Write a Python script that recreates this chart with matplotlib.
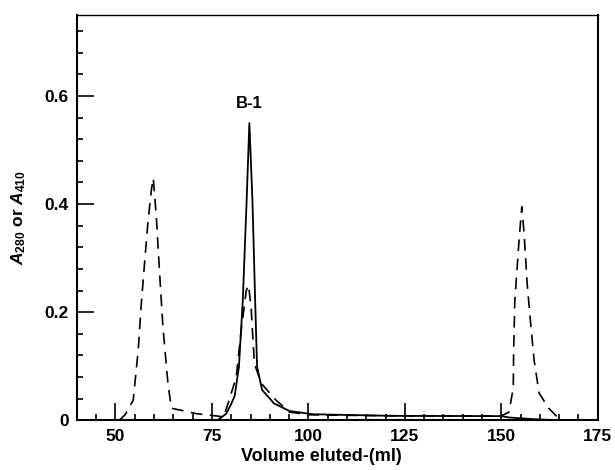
import matplotlib
matplotlib.use('Agg')
import matplotlib.pyplot as plt
from matplotlib.ticker import MultipleLocator

plt.rcParams['font.family'] = ['Liberation Sans', 'DejaVu Sans']
plt.rcParams['mathtext.fontset'] = 'custom'
plt.rcParams['mathtext.rm'] = 'Liberation Sans:bold'
plt.rcParams['mathtext.it'] = 'Liberation Sans:italic:bold'
plt.rcParams['mathtext.bf'] = 'Liberation Sans:bold'

# dashed trace (A410)
vol_dash = [51, 52.5, 54.6, 55.9, 56.7, 57.6, 58.4, 59.3, 59.8, 60.6, 61.5, 62.3, 63.6, 64.5,
            66.6, 71, 76, 78, 79.6, 81.3, 82.6, 83.9, 84.5, 85.2, 85.6, 86, 87.8, 91.6, 95.1,
            100, 110, 125, 140, 150, 152, 153.1, 153.2, 153.5, 154.6, 155.3, 155.9, 156.7,
            157.6, 158.5, 159.8, 162.3, 164.5]
abs_dash = [0, 0.01, 0.037, 0.13, 0.216, 0.296, 0.365, 0.426, 0.448, 0.376, 0.265, 0.173, 0.068, 0.022,
            0.019, 0.012, 0.008, 0.006, 0.04, 0.08, 0.167, 0.24, 0.25, 0.204, 0.154, 0.105, 0.068, 0.037, 0.015,
            0.01, 0.009, 0.008, 0.008, 0.008, 0.015, 0.06, 0.13, 0.222, 0.333, 0.395, 0.346, 0.253,
            0.179, 0.111, 0.05, 0.022, 0.006]

# solid trace (A280)
vol_solid = [76.5, 78.7, 80, 80.9, 82, 83, 84, 84.7, 85.5, 86.2, 86.7, 88, 91.1, 95.1, 101.2,
             121.5, 150, 152, 158, 164.1]
abs_solid = [0, 0.012, 0.03, 0.045, 0.099, 0.222, 0.407, 0.55, 0.407, 0.222, 0.099, 0.056, 0.031,
             0.017, 0.011, 0.008, 0.0075, 0.005, 0.002, 0]

xticks = [50, 75, 100, 125, 150, 175]
yticks = [0, 0.2, 0.4, 0.6]
yticklabels = ['0', '0.2', '0.4', '0.6']

fig = plt.figure(figsize=(6.15, 4.7), dpi=100)
ax = fig.add_axes([0.125, 0.106, 0.847, 0.862])

ax.plot(vol_dash, abs_dash, color='black', lw=1.2, linestyle=(0, (7, 4.5)))
ax.plot(vol_solid, abs_solid, color='black', lw=1.3)

ax.text(84.7, 0.587, 'B-1', ha='center', va='center', fontsize=12, fontweight='bold')

ax.set_xlim(40, 175)
ax.set_ylim(0, 0.75)
ax.set_xticks(xticks)
ax.set_xticklabels([str(t) for t in xticks])
ax.set_yticks(yticks)
ax.set_yticklabels(yticklabels)
ax.xaxis.set_minor_locator(MultipleLocator(5))
ax.yaxis.set_minor_locator(MultipleLocator(0.04))

ax.tick_params(which='both', direction='in', top=False, right=False, width=1.2,
               labelsize=12.5, pad=6)
ax.tick_params(which='major', length=12)
ax.tick_params(which='minor', length=4.5)
for lab in ax.get_xticklabels() + ax.get_yticklabels():
    lab.set_fontweight('bold')

for side in ['left', 'bottom', 'right']:
    ax.spines[side].set_linewidth(1.5)
ax.spines['top'].set_linewidth(1.0)

ax.set_xlabel('Volume eluted-(ml)', fontsize=13, fontweight='bold')
ax.xaxis.set_label_coords(0.47, -0.068)
ax.set_ylabel(r'$A_{280}$ or $A_{410}$', fontsize=12.5, fontweight='bold', labelpad=12)

fig.savefig('out.png', dpi=100)
